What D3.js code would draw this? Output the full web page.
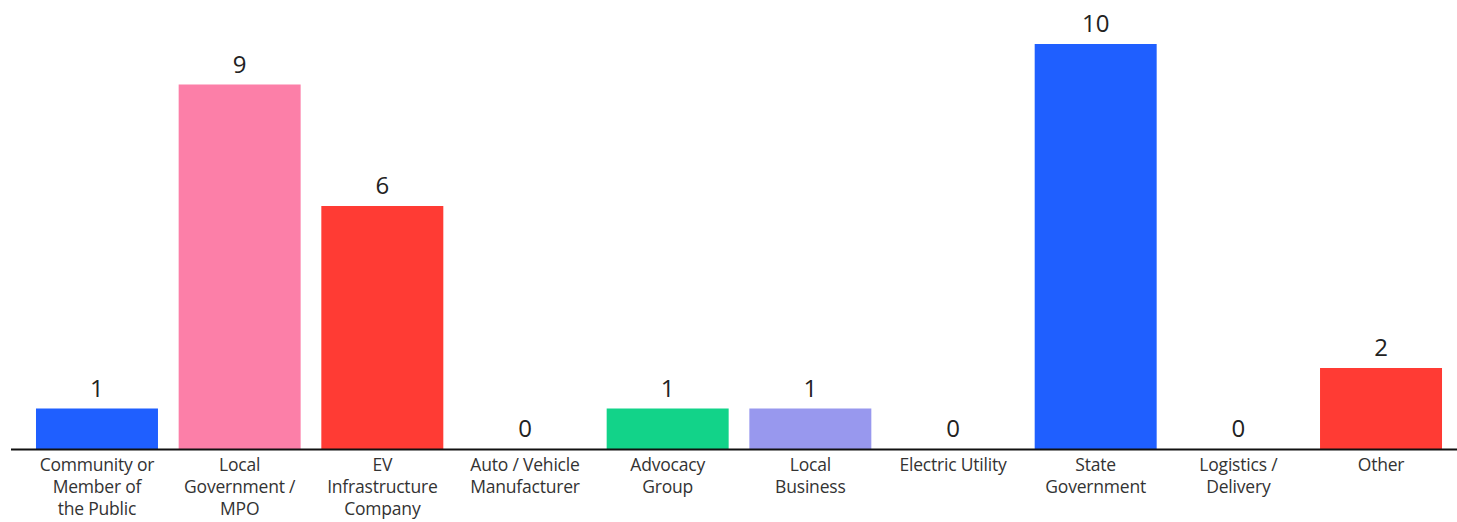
<!DOCTYPE html>
<html><head><meta charset="utf-8">
<script src="https://cdn.jsdelivr.net/npm/d3@7"></script>
<style>body{margin:0;background:#fff}svg{display:block}</style>
</head><body><svg id="c" width="1457" height="522"></svg>
<script>
const categories = ["Community or|Member of|the Public","Local|Government /|MPO","EV|Infrastructure|Company","Auto / Vehicle|Manufacturer","Advocacy|Group","Local|Business","Electric Utility","State|Government","Logistics /|Delivery","Other"];
const values = [1,9,6,0,1,1,0,10,0,2];
const colors = ["#1f5fff","#fc7fa8","#ff3b34","#ff3b34","#12d389","#9898ee","#9898ee","#1f5fff","#1f5fff","#ff3b34"];

const svg = d3.select("#c");
const font = "'Open Sans', Lato, sans-serif";
const x = d3.scaleBand().domain(d3.range(categories.length)).range([26,1452]).paddingInner(0.145).paddingOuter(0.07);
const y = d3.scaleLinear().domain([0,10]).range([449,44]);

svg.append("g").selectAll("rect").data(values).join("rect")
  .attr("x",(d,i)=>x(i)).attr("width",x.bandwidth())
  .attr("y",d=>y(d)).attr("height",d=>y(0)-y(d))
  .attr("fill",(d,i)=>colors[i]);

svg.append("g").selectAll("text").data(values).join("text")
  .attr("x",(d,i)=>x(i)+x.bandwidth()/2).attr("y",d=>y(d)-12)
  .attr("text-anchor","middle").attr("font-family",font).attr("font-size",24)
  .attr("fill","#222").text(d=>d);

const axis = d3.axisBottom(x).tickSize(0).tickFormat("");
const ax = svg.append("g").attr("transform","translate(0,"+y(0)+")").call(axis);
ax.select(".domain").remove();
svg.append("line").attr("x1",11).attr("x2",1457).attr("y1",y(0)+0.5).attr("y2",y(0)+0.5).attr("stroke","#111").attr("stroke-width",2);

const lab = svg.append("g").selectAll("text").data(categories).join("text")
  .attr("text-anchor","middle").attr("font-family",font).attr("font-size",17.5).attr("letter-spacing",-0.2).attr("fill","#333")
  .attr("transform",(d,i)=>"translate("+(x(i)+x.bandwidth()/2)+","+(y(0)+22)+")");
lab.selectAll("tspan").data(d=>d.split("|")).join("tspan")
  .attr("x",0).attr("dy",(d,i)=>i===0?0:22).text(d=>d);
</script></body></html>
